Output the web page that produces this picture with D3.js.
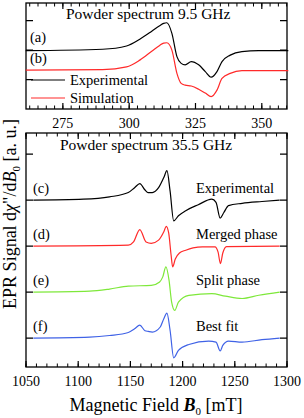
<!DOCTYPE html>
<html>
<head>
<meta charset="utf-8">
<script src="https://cdn.jsdelivr.net/npm/d3@7"></script>
<style>
  body { margin: 0; background: #fff; }
  text { font-family: "Liberation Serif", "Times New Roman", serif; fill: #000; }
</style>
</head>
<body>
<div id="chart"></div>
<script>
////////////////////////////////////////////////////////////////////////
// Data

// top panel, 9.5 GHz (field in mT, signal in a.u. above its own baseline)
let xbandField = [261, 290, 299, 304, 308.5, 311.5, 313, 314.2, 316.1, 318, 319.6, 321.1, 323.4, 326.2, 328.7, 330.9, 333.1, 335, 338.1, 342.5, 348.8, 360];
let xbandExp   = [0, 0.05, 0.16, 0.39, 0.66, 0.85, 0.93, 0.95, 0.59, -0.2, -0.43, -0.48, -0.37, -0.48, -0.71, -0.9, -0.71, -0.37, -0.15, -0.03, 0, 0];
let xbandSim   = [0, 0.02, 0.11, 0.34, 0.64, 0.84, 0.92, 0.93, 0.68, -0.11, -0.45, -0.51, -0.54, -0.65, -0.78, -0.9, -0.68, -0.28, -0.11, -0.02, -0.02, -0.02];

// bottom panel, 35.5 GHz
let qbandExpField = [1057, 1105, 1130, 1148, 1154, 1159, 1164, 1167, 1171, 1177, 1182, 1185, 1188, 1191.5, 1196, 1203, 1215, 1228, 1232, 1236, 1239.5, 1244, 1257, 1276, 1293];
let qbandExp      = [0, 0.02, 0.07, 0.165, 0.27, 0.36, 0.22, 0.165, 0.165, 0.27, 0.49, 0.64, 0.2, -0.45, -0.34, -0.23, -0.1, 0.02, -0.05, -0.39, -0.27, -0.12, -0.07, -0.03, 0];

let mergedField = [1057, 1148, 1153, 1159, 1165, 1170, 1177, 1182, 1184.3, 1186.7, 1189, 1190.5, 1193, 1197, 1203, 1210, 1219, 1231, 1234, 1236.2, 1238.5, 1242, 1293];
let merged      = [0, 0.02, 0.09, 0.36, 0.09, 0.06, 0.13, 0.31, 0.43, 0.28, -0.2, -0.45, -0.28, -0.15, -0.09, -0.04, -0.015, -0.015, -0.13, -0.38, -0.15, -0.01, 0];

let splitField = [1057, 1111, 1130, 1148, 1170, 1178, 1181, 1184, 1187, 1189.5, 1192.5, 1196, 1206, 1228, 1241, 1257, 1273, 1293];
let split      = [0, 0.02, 0.065, 0.13, 0.145, 0.22, 0.33, 0.55, 0.26, -0.22, -0.4, -0.22, -0.07, -0.035, -0.09, -0.14, -0.07, 0];

let fitField = [1057, 1111, 1130, 1148, 1154, 1159, 1164, 1167, 1171, 1178.6, 1182, 1185, 1188, 1191.5, 1196, 1206, 1225, 1232, 1236, 1238.5, 1244, 1257, 1276, 1293];
let fit      = [0, 0.02, 0.055, 0.12, 0.2, 0.28, 0.16, 0.145, 0.13, 0.24, 0.42, 0.54, 0.17, -0.43, -0.27, -0.14, -0.065, -0.09, -0.28, -0.16, -0.065, -0.09, -0.035, 0];

let topTicks = [275, 300, 325, 350];
let bottomTicks = [1050, 1100, 1150, 1200, 1250, 1300];

////////////////////////////////////////////////////////////////////////
// svg + scales

let width = 304, height = 418;
let left = 26, right = 287;

let svg = d3.select("#chart").append("svg")
  .attr("width", width).attr("height", height);

let xTop = d3.scaleLinear().domain([261.1, 359.5]).range([left, right]);
let yTop = d3.scaleLinear().domain([0, 3.6]).range([109, 3]);

let xBot = d3.scaleLinear().domain([1050, 1300]).range([left, right]);
let yBot = d3.scaleLinear().domain([0.37, 5.46]).range([367, 133]);

function makeLine(xs, ys, xsc, ysc, offset) {
  let pts = xs.map(function(f, i) { return [xsc(f), ysc(ys[i] + offset)]; });
  return d3.line().curve(d3.curveMonotoneX)(pts);
}

// draws frame + inward ticks for one panel
function drawFrame(xsc, ysc, majors, minorStep, yTicks, yTickLen) {
  let g = svg.append("g");
  let [x0, x1] = xsc.range();
  let [yb, yt] = ysc.range();

  let d0 = xsc.domain();
  let minors = d3.range(Math.ceil(d0[0] / minorStep) * minorStep, d0[1] + 0.001, minorStep);

  // minor ticks, top and bottom
  g.selectAll(".minor").data(minors).enter().append("path")
    .attr("d", function(d) {
      let x = xsc(d);
      return "M" + x + "," + yb + "v-3.5M" + x + "," + yt + "v3.5";
    })
    .attr("stroke", "#000").attr("stroke-width", 1);

  g.selectAll(".major").data(majors).enter().append("path")
    .attr("d", function(d) {
      let x = xsc(d);
      return "M" + x + "," + yb + "v-6M" + x + "," + yt + "v6";
    })
    .attr("stroke", "#000").attr("stroke-width", 1.2);

  g.selectAll(".ytick").data(yTicks).enter().append("path")
    .attr("d", function(d) {
      let y = ysc(d);
      return "M" + x0 + "," + y + "h" + yTickLen + "M" + x1 + "," + y + "h-" + yTickLen;
    })
    .attr("stroke", "#000").attr("stroke-width", 1.3);

  g.append("rect")
    .attr("x", x0).attr("y", yt)
    .attr("width", x1 - x0).attr("height", yb - yt)
    .attr("fill", "none").attr("stroke", "#000").attr("stroke-width", 1.3);

  g.selectAll(".tlabel").data(majors).enter().append("text")
    .attr("x", function(d) { return xsc(d); })
    .attr("y", yb + 19)
    .attr("text-anchor", "middle")
    .style("font-size", "14px")
    .text(function(d) { return d; });
}

////////////////////////////////////////////////////////////////////////
// top panel

drawFrame(xTop, yTop, topTicks, 25 / 8, [1, 2, 3], 7);

let topCurves = [
  { x: xbandField, y: xbandExp, off: 1.98, color: "#000" },
  { x: xbandField, y: xbandSim, off: 1.32, color: "#ff2a2a" }
];
svg.append("g").selectAll("path").data(topCurves).enter().append("path")
  .attr("d", function(c) { return makeLine(c.x, c.y, xTop, yTop, c.off); })
  .attr("fill", "none")
  .attr("stroke", function(c) { return c.color; })
  .attr("stroke-width", 1.2);

svg.append("text").attr("x", 66).attr("y", 19).style("font-size", "15.5px")
  .text("Powder spectrum 9.5 GHz");
svg.append("text").attr("x", 30).attr("y", 42).style("font-size", "14.5px").text("(a)");
svg.append("text").attr("x", 30).attr("y", 63).style("font-size", "14.5px").text("(b)");

// legend
let legend = [
  { name: "Experimental", color: "#000", y: 80 },
  { name: "Simulation", color: "#ff2a2a", y: 98 }
];
legend.forEach(function(l) {
  svg.append("line").attr("x1", 31).attr("x2", 65).attr("y1", l.y).attr("y2", l.y)
    .attr("stroke", l.color).attr("stroke-width", 1.2);
  svg.append("text").attr("x", 70).attr("y", l.y + 4.5).style("font-size", "14.5px").text(l.name);
});

////////////////////////////////////////////////////////////////////////
// bottom panel

drawFrame(xBot, yBot, bottomTicks, 10, [1, 2, 3, 4, 5], 7);

let botCurves = [
  { x: qbandExpField, y: qbandExp, off: 4.0, color: "#000", tag: "(c)", name: "Experimental" },
  { x: mergedField, y: merged, off: 3.0, color: "#ff2a2a", tag: "(d)", name: "Merged phase" },
  { x: splitField, y: split, off: 2.0, color: "#7ee83a", tag: "(e)", name: "Split phase" },
  { x: fitField, y: fit, off: 1.0, color: "#3f62e6", tag: "(f)", name: "Best fit" }
];
svg.append("g").selectAll("path").data(botCurves).enter().append("path")
  .attr("d", function(c) { return makeLine(c.x, c.y, xBot, yBot, c.off); })
  .attr("fill", "none")
  .attr("stroke", function(c) { return c.color; })
  .attr("stroke-width", 1.2);

svg.selectAll(".tag").data(botCurves).enter().append("text")
  .attr("x", 33).attr("y", function(c) { return yBot(c.off) - 7; })
  .style("font-size", "14.5px")
  .text(function(c) { return c.tag; });

svg.selectAll(".cname").data(botCurves).enter().append("text")
  .attr("x", 196).attr("y", function(c) { return yBot(c.off) - 7; })
  .style("font-size", "14.5px")
  .text(function(c) { return c.name; });

svg.append("text").attr("x", 60).attr("y", 150).style("font-size", "15.5px")
  .text("Powder spectrum 35.5 GHz");

////////////////////////////////////////////////////////////////////////
// axis titles

let xt = svg.append("text").attr("x", 156).attr("y", 411)
  .attr("text-anchor", "middle").style("font-size", "18px");
xt.append("tspan").text("Magnetic Field ");
xt.append("tspan").style("font-weight", "bold").style("font-style", "italic").text("B");
xt.append("tspan").attr("dy", 4).style("font-size", "11px").text("0");
xt.append("tspan").attr("dy", -4).text(" [mT]");

let yt = svg.append("text")
  .attr("transform", "translate(16,214) rotate(-90)")
  .attr("text-anchor", "middle").style("font-size", "18px");
yt.append("tspan").text("EPR Signal d");
yt.append("tspan").style("font-style", "italic").text("\u03c7");
yt.append("tspan").text("\"/d");
yt.append("tspan").style("font-style", "italic").text("B");
yt.append("tspan").attr("dy", 4).style("font-size", "11px").text("0");
yt.append("tspan").attr("dy", -4).text(" [a. u.]");
</script>
</body>
</html>
